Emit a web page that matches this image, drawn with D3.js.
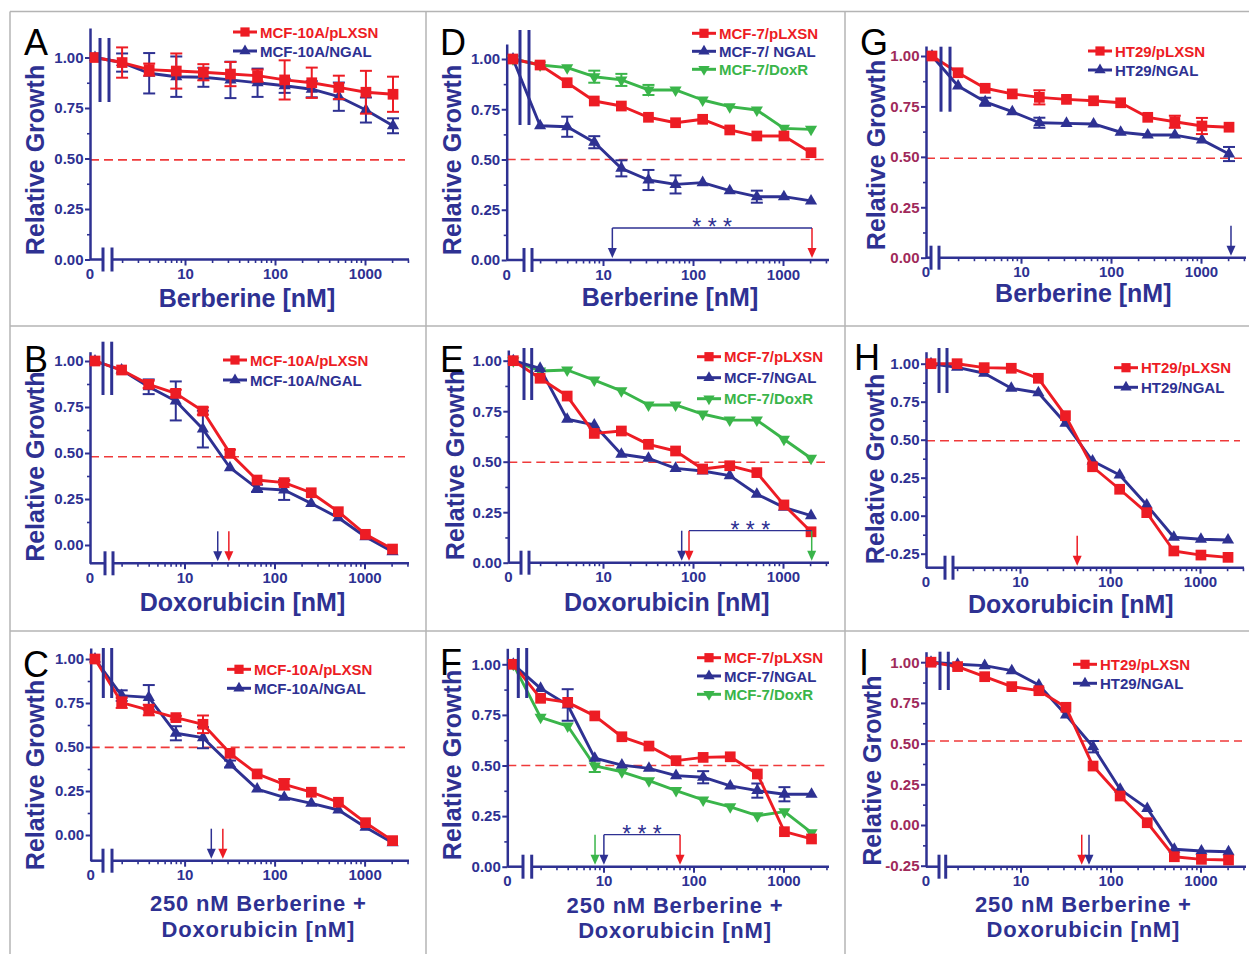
<!DOCTYPE html>
<html><head><meta charset="utf-8">
<script src="https://cdn.jsdelivr.net/npm/d3@7"></script>
<style>body{margin:0;background:#fff}svg{display:block;background:#fff}</style>
</head><body><svg id="c" width="1249" height="954"></svg>
<script>
// ---------- data ----------
const doses = [0,2,4,8,16,32,64,128,256,512,1024,2048];
const xMajorTicks = [10,100,1000];
const xMinorTicks = [2,3,4,5,6,7,8,9,20,30,40,50,60,70,80,90,200,300,400,500,600,700,800,900,2000,3000];
const yTicksStd = [0,0.25,0.5,0.75,1];
const yTicksNeg = [-0.25,0,0.25,0.5,0.75,1];

const A_pLXSN = [1.0,0.975,0.94,0.933,0.927,0.918,0.91,0.889,0.875,0.852,0.828,0.818];
const A_pLXSN_err = [0,0.075,0.03,0.087,0.04,0.06,0.03,0.097,0.075,0.058,0.106,0.087];
const A_NGAL = [1.0,0.975,0.922,0.905,0.902,0.889,0.875,0.86,0.843,0.806,0.74,0.662];
const A_NGAL_err = [0,0.045,0.1,0.1,0.047,0.09,0.07,0.035,0.04,0.07,0.062,0.037];

const B_pLXSN = [1.0,0.951,0.873,0.824,0.728,0.498,0.353,0.339,0.284,0.181,0.058,-0.022];
const B_pLXSN_err = [0,0,0.02,0.02,0.02,0.02,0,0.01,0,0,0,0];
const B_NGAL = [1.0,0.951,0.86,0.783,0.63,0.42,0.308,0.299,0.226,0.148,0.045,-0.036];
const B_NGAL_err = [0,0,0.04,0.106,0.1,0,0.02,0.054,0,0,0,0];

const C_pLXSN = [1.0,0.752,0.71,0.667,0.629,0.464,0.347,0.288,0.243,0.186,0.07,-0.032];
const C_pLXSN_err = [0,0.03,0.03,0.01,0.05,0,0,0.03,0,0,0,0];
const C_NGAL = [1.0,0.792,0.782,0.578,0.553,0.403,0.261,0.214,0.18,0.142,0.044,-0.044];
const C_NGAL_err = [0,0.03,0.07,0.04,0.06,0.02,0,0,0,0,0,0];

const D_pLXSN = [1.0,0.97,0.882,0.791,0.766,0.71,0.683,0.70,0.647,0.617,0.617,0.534];
const D_NGAL = [1.0,0.668,0.663,0.586,0.456,0.398,0.376,0.385,0.345,0.315,0.315,0.294];
const D_NGAL_err = [0,0,0.05,0.03,0.04,0.05,0.045,0,0,0.03,0,0];
const D_DoxR = [1.0,0.97,0.957,0.912,0.896,0.846,0.846,0.796,0.763,0.746,0.655,0.65];
const D_DoxR_err = [0,0,0,0.03,0.03,0.025,0,0,0,0,0,0];

const E_pLXSN = [1.0,0.913,0.825,0.64,0.652,0.586,0.553,0.464,0.48,0.446,0.286,0.153];
const E_NGAL = [1.0,0.962,0.71,0.682,0.537,0.517,0.467,0.454,0.431,0.339,0.274,0.233];
const E_DoxR = [1.0,0.949,0.954,0.904,0.851,0.781,0.781,0.736,0.706,0.706,0.611,0.517];

const F_pLXSN = [1.0,0.832,0.812,0.745,0.642,0.596,0.524,0.54,0.543,0.458,0.173,0.137];
const F_NGAL = [1.0,0.881,0.799,0.536,0.502,0.486,0.45,0.442,0.399,0.376,0.358,0.358];
const F_NGAL_err = [0,0,0.078,0,0,0,0,0.03,0,0.035,0.035,0];
const F_DoxR = [1.0,0.738,0.695,0.498,0.469,0.425,0.376,0.33,0.296,0.252,0.272,0.168];
const F_DoxR_err = [0,0,0,0.03,0,0,0,0,0,0,0,0];

const G_pLXSN = [1.0,0.917,0.84,0.812,0.795,0.785,0.778,0.768,0.696,0.674,0.653,0.647];
const G_pLXSN_err = [0,0,0,0,0.035,0,0,0,0,0.03,0.04,0];
const G_NGAL = [1.0,0.851,0.773,0.724,0.669,0.666,0.663,0.622,0.608,0.608,0.584,0.514];
const G_NGAL_err = [0,0,0.02,0,0.025,0,0,0,0,0,0,0.035];

const H_pLXSN = [1.0,1.0,0.974,0.97,0.904,0.658,0.322,0.174,0.02,-0.232,-0.259,-0.274];
const H_NGAL = [1.0,0.976,0.937,0.838,0.809,0.608,0.36,0.268,0.07,-0.142,-0.155,-0.16];

const I_pLXSN = [1.0,0.973,0.911,0.85,0.825,0.723,0.362,0.178,0.014,-0.195,-0.211,-0.215];
const I_NGAL = [1.0,0.987,0.979,0.948,0.86,0.676,0.481,0.219,0.102,-0.149,-0.16,-0.164];
const I_NGAL_err = [0,0,0,0,0,0,0.035,0,0,0,0,0];

// 50% reference lines
const halfLines = {A:0.493,B:0.48,C:0.498,D:0.5,E:0.497,F:0.5,G:0.493,H:0.493,I:0.516};
// IC50 arrows (dose, series)
const arrowsB = [{dose:23.4,s:"n"},{dose:31.1,s:"p"}];
const arrowsC = [{dose:19.8,s:"n"},{dose:26.6,s:"p"}];
const arrowsD = [{dose:12.7,s:"n"},{dose:2100,s:"p"}];
const arrowsE = [{dose:74.9,s:"n"},{dose:90.3,s:"p"},{dose:2084,s:"d"}];
const arrowsF = [{dose:8.05,s:"d"},{dose:10.1,s:"n"},{dose:70.9,s:"p"}];
const arrowsG = [{dose:2154,s:"n"}];
const arrowsH = [{dose:43.2,s:"p"}];
const arrowsI = [{dose:47.9,s:"p"},{dose:57.7,s:"n"}];
const bracketD = [12.7,2100];
const bracketE = [90.3,2084];
const bracketF = [10.1,70.9];

// ---------- styles / layout ----------
const BLUE="#2e3192", RED="#ed1c24", GREEN="#3ab54a", MAROON="#a02a5a";
const FONT="'Liberation Sans', Arial, Helvetica, sans-serif";
const colorOf = {p:RED, n:BLUE, d:GREEN};
const shapeOf = {p:"square", n:"up", d:"down"};

const lay = {
 A:{ax:90, ctrl:95, x10:185, xEnd:409, y0:259.5, y1:57.5, xAxisY:259.5, yTop:28, tb:[100,109,38,102], bb:[103,112], leg:[233,32,19], letter:[24,55], ylab:[35,160], xlab:[247,298], tickCol:BLUE},
 B:{ax:90, ctrl:95, x10:184.5, xEnd:409, y0:545, y1:361, xAxisY:563.3, yTop:351.7, tb:[103,111.7,341.7,395], bb:[105,113], leg:[223,360,20], letter:[24,372], ylab:[35,466.7], xlab:[242.5,601.7], tickCol:BLUE},
 C:{ax:90.7, ctrl:95, x10:184.6, xEnd:409, y0:835, y1:659, xAxisY:860.7, yTop:648, tb:[103.3,111.7,648,698], bb:[103,112], leg:[227,669.3,19], letter:[23,677], ylab:[35,775], xlab:[258.3,903.5], tickCol:BLUE},
 D:{ax:506.7, ctrl:513, x10:603, xEnd:829, y0:260, y1:59, xAxisY:260, yTop:44, tb:[520,529,30,125], bb:[524,532], leg:[692,33.3,18], letter:[440,55], ylab:[452,160], xlab:[670,297], tickCol:BLUE},
 E:{ax:508.3, ctrl:513.3, x10:603, xEnd:829, y0:562.7, y1:360.7, xAxisY:562.7, yTop:350, tb:[524,531.7,348,400], bb:[521,529], leg:[697,356.7,21], letter:[440,372], ylab:[455,465], xlab:[666.7,601.7], tickCol:BLUE},
 F:{ax:507.3, ctrl:513.3, x10:603.5, xEnd:829, y0:866.7, y1:664.3, xAxisY:866.7, yTop:648.3, tb:[518.3,526.7,648,698], bb:[523,531.7], leg:[697,657.7,18.3], letter:[440,675], ylab:[452,765], xlab:[675,905], tickCol:BLUE},
 G:{ax:926, ctrl:932, x10:1021, xEnd:1246, y0:257.7, y1:56, xAxisY:257.7, yTop:46, tb:[941,950,46.7,111.7], bb:[931,939], leg:[1088,51,19], letter:[860,55], ylab:[876,155], xlab:[1083.3,293.3], tickCol:MAROON},
 H:{ax:926, ctrl:931, x10:1020, xEnd:1244, y0:515.7, y1:363.7, xAxisY:567.7, yTop:351.7, tb:[939,947,348,393], bb:[945,953], leg:[1114,367.7,19.6], letter:[854,370], ylab:[875,469], xlab:[1070.8,604.3], tickCol:BLUE},
 I:{ax:926, ctrl:931, x10:1020.5, xEnd:1246, y0:825, y1:662.2, xAxisY:866.7, yTop:651.7, tb:[940,948.3,651.7,690], bb:[939,945.7], leg:[1073,664.3,19], letter:[859,675], ylab:[872,770.7], xlab:[1083.3,904], tickCol:MAROON}
};
const DEC = 90;

const panels = [
 {k:"A", series:[{s:"n",name:"MCF-10A/NGAL",v:A_NGAL,e:A_NGAL_err},{s:"p",name:"MCF-10A/pLXSN",v:A_pLXSN,e:A_pLXSN_err}], legendOrder:["p","n"], yTicks:yTicksStd, xlabel:["Berberine [nM]"], arrows:[], bracket:null},
 {k:"B", series:[{s:"n",name:"MCF-10A/NGAL",v:B_NGAL,e:B_NGAL_err},{s:"p",name:"MCF-10A/pLXSN",v:B_pLXSN,e:B_pLXSN_err}], legendOrder:["p","n"], yTicks:yTicksStd, xlabel:["Doxorubicin [nM]"], arrows:arrowsB, bracket:null},
 {k:"C", series:[{s:"n",name:"MCF-10A/NGAL",v:C_NGAL,e:C_NGAL_err},{s:"p",name:"MCF-10A/pLXSN",v:C_pLXSN,e:C_pLXSN_err}], legendOrder:["p","n"], yTicks:yTicksStd, xlabel:["250 nM Berberine +","Doxorubicin [nM]"], arrows:arrowsC, bracket:null},
 {k:"D", series:[{s:"d",name:"MCF-7/DoxR",v:D_DoxR,e:D_DoxR_err},{s:"n",name:"MCF-7/ NGAL",v:D_NGAL,e:D_NGAL_err},{s:"p",name:"MCF-7/pLXSN",v:D_pLXSN}], legendOrder:["p","n","d"], yTicks:yTicksStd, xlabel:["Berberine [nM]"], arrows:arrowsD, bracket:bracketD},
 {k:"E", series:[{s:"d",name:"MCF-7/DoxR",v:E_DoxR},{s:"n",name:"MCF-7/NGAL",v:E_NGAL},{s:"p",name:"MCF-7/pLXSN",v:E_pLXSN}], legendOrder:["p","n","d"], yTicks:yTicksStd, xlabel:["Doxorubicin [nM]"], arrows:arrowsE, bracket:bracketE},
 {k:"F", series:[{s:"d",name:"MCF-7/DoxR",v:F_DoxR,e:F_DoxR_err},{s:"n",name:"MCF-7/NGAL",v:F_NGAL,e:F_NGAL_err},{s:"p",name:"MCF-7/pLXSN",v:F_pLXSN}], legendOrder:["p","n","d"], yTicks:yTicksStd, xlabel:["250 nM Berberine +","Doxorubicin [nM]"], arrows:arrowsF, bracket:bracketF},
 {k:"G", series:[{s:"n",name:"HT29/NGAL",v:G_NGAL,e:G_NGAL_err},{s:"p",name:"HT29/pLXSN",v:G_pLXSN,e:G_pLXSN_err}], legendOrder:["p","n"], yTicks:yTicksStd, xlabel:["Berberine [nM]"], arrows:arrowsG, bracket:null},
 {k:"H", series:[{s:"n",name:"HT29/NGAL",v:H_NGAL},{s:"p",name:"HT29/pLXSN",v:H_pLXSN}], legendOrder:["p","n"], yTicks:yTicksNeg, xlabel:["Doxorubicin [nM]"], arrows:arrowsH, bracket:null},
 {k:"I", series:[{s:"n",name:"HT29/NGAL",v:I_NGAL,e:I_NGAL_err},{s:"p",name:"HT29/pLXSN",v:I_pLXSN}], legendOrder:["p","n"], yTicks:yTicksNeg, xlabel:["250 nM Berberine +","Doxorubicin [nM]"], arrows:arrowsI, bracket:null}
];

const svg = d3.select("#c");

// panel frame lines
const frame = [[10,11.5,1249,11.5],[10,11.5,10,954],[426,11.5,426,954],[845,11.5,845,954],[10,326,1249,326],[10,631,1249,631]];
svg.append("g").selectAll("line").data(frame).join("line")
  .attr("x1",d=>d[0]).attr("y1",d=>d[1]).attr("x2",d=>d[2]).attr("y2",d=>d[3])
  .attr("stroke","#b4b4b4").attr("stroke-width",1.5);

function symPath(shape, size){
  if(shape==="square") return d3.symbol(d3.symbolSquare, size)();
  return d3.symbol(d3.symbolTriangle, size)();
}

function drawPanel(P){
  const L = lay[P.k];
  const g = svg.append("g").attr("id","panel"+P.k);
  const x = d3.scaleLog().domain([10,1000]).range([L.x10, L.x10+2*DEC]);
  const xp = d => d===0 ? L.ctrl : x(d);
  const y = d3.scaleLinear().domain([0,1]).range([L.y0, L.y1]);

  // dashed 50% line
  g.append("line").attr("x1",L.ax).attr("x2",L.xEnd-4)
    .attr("y1",y(halfLines[P.k])).attr("y2",y(halfLines[P.k]))
    .attr("stroke","#ef3a3a").attr("stroke-width",1.6).attr("stroke-dasharray","9,5");

  // y axis
  const yAx = d3.scaleLinear().domain([y.invert(L.xAxisY), y.invert(L.yTop)]).range([L.xAxisY, L.yTop]);
  const gy = g.append("g").attr("transform",`translate(${L.ax},0)`)
    .call(d3.axisLeft(yAx).tickValues(P.yTicks).tickFormat(d=>d.toFixed(2)).tickSize(5).tickSizeOuter(0).tickPadding(1.5));
  gy.select(".domain").attr("stroke",BLUE).attr("stroke-width",2.5);
  gy.selectAll(".tick line").attr("stroke",BLUE).attr("stroke-width",2);
  gy.selectAll(".tick text").attr("fill",L.tickCol).attr("font-size",15).attr("font-weight","bold").attr("font-family",FONT);
  const minorY = P.yTicks.slice(1).map((t,i)=>(t+P.yTicks[i])/2);
  const gym = g.append("g").attr("transform",`translate(${L.ax},0)`)
    .call(d3.axisLeft(yAx).tickValues(minorY).tickFormat("").tickSize(3).tickSizeOuter(0));
  gym.select(".domain").remove();
  gym.selectAll(".tick line").attr("stroke",BLUE).attr("stroke-width",1.6);

  // x axis
  const xEndVal = x.invert(L.xEnd);
  const gx = g.append("g").attr("transform",`translate(0,${L.xAxisY})`)
    .call(d3.axisBottom(x).tickValues(xMajorTicks).tickFormat(d3.format("d")).tickSize(6).tickSizeOuter(0).tickPadding(3));
  gx.select(".domain").remove();
  gx.selectAll(".tick line").attr("stroke",BLUE).attr("stroke-width",2);
  gx.selectAll(".tick text").attr("fill",BLUE).attr("font-size",15).attr("font-weight","bold").attr("font-family",FONT);
  const gxm = g.append("g").attr("transform",`translate(0,${L.xAxisY})`)
    .call(d3.axisBottom(x).tickValues(xMinorTicks.filter(t=>t<xEndVal)).tickFormat("").tickSize(3.5).tickSizeOuter(0));
  gxm.select(".domain").remove();
  gxm.selectAll(".tick line").attr("stroke",BLUE).attr("stroke-width",1.6);
  g.append("text").attr("x",L.ax).attr("y",L.xAxisY+9).attr("dy","0.71em").attr("text-anchor","middle")
    .attr("fill",BLUE).attr("font-size",15).attr("font-weight","bold").attr("font-family",FONT).text("0");
  const axSegs = [[L.ax,L.bb[0]],[L.bb[1],L.xEnd]];
  g.append("g").selectAll("line").data(axSegs).join("line")
    .attr("x1",d=>d[0]).attr("x2",d=>d[1]).attr("y1",L.xAxisY).attr("y2",L.xAxisY)
    .attr("stroke",BLUE).attr("stroke-width",2.5);

  // series
  P.series.forEach(S=>{
    const col = colorOf[S.s];
    const pts = doses.map((d,i)=>({d, v:S.v[i], e:S.e?S.e[i]:0}));
    g.append("path").datum(pts)
      .attr("d", d3.line().x(p=>xp(p.d)).y(p=>y(p.v)))
      .attr("fill","none").attr("stroke",col).attr("stroke-width",2.9).attr("stroke-linejoin","round");
    const eb = g.append("g").selectAll("g").data(pts.filter(p=>p.e>0)).join("g");
    eb.append("line").attr("x1",p=>xp(p.d)).attr("x2",p=>xp(p.d)).attr("y1",p=>y(p.v-p.e)).attr("y2",p=>y(p.v+p.e))
      .attr("stroke",col).attr("stroke-width",2);
    [1,-1].forEach(sg=>{
      eb.append("line").attr("x1",p=>xp(p.d)-6).attr("x2",p=>xp(p.d)+6)
        .attr("y1",p=>y(p.v+sg*p.e)).attr("y2",p=>y(p.v+sg*p.e))
        .attr("stroke",col).attr("stroke-width",2);
    });
    const shape = shapeOf[S.s];
    g.append("g").selectAll("path").data(pts).join("path")
      .attr("d", symPath(shape, shape==="square"?115:64))
      .attr("transform",p=>`translate(${xp(p.d)},${y(p.v)})${shape==="down"?" rotate(180)":""}`)
      .attr("fill",col);
  });

  // break marks
  g.append("g").selectAll("line").data([L.tb[0],L.tb[1]]).join("line")
    .attr("x1",d=>d).attr("x2",d=>d).attr("y1",L.tb[2]).attr("y2",L.tb[3])
    .attr("stroke",BLUE).attr("stroke-width",3);
  g.append("g").selectAll("line").data(L.bb).join("line")
    .attr("x1",d=>d).attr("x2",d=>d).attr("y1",L.xAxisY-12).attr("y2",L.xAxisY+12)
    .attr("stroke",BLUE).attr("stroke-width",3);

  // arrows
  const tipY = L.xAxisY-2, tailY = L.xAxisY-32;
  P.arrows.forEach(a=>{
    const col = colorOf[a.s], ax = x(a.dose);
    g.append("line").attr("x1",ax).attr("x2",ax).attr("y1",tailY).attr("y2",tipY-8)
      .attr("stroke",col).attr("stroke-width",1.5);
    g.append("path").attr("d",`M${ax-4.5},${tipY-10}L${ax+4.5},${tipY-10}L${ax},${tipY}Z`).attr("fill",col);
  });
  if(P.bracket){
    const bx1 = x(P.bracket[0]), bx2 = x(P.bracket[1]);
    g.append("line").attr("x1",bx1).attr("x2",bx2).attr("y1",tailY).attr("y2",tailY)
      .attr("stroke",BLUE).attr("stroke-width",1.3);
    g.append("text").attr("x",(bx1+bx2)/2).attr("y",tailY+7).attr("text-anchor","middle")
      .attr("fill",BLUE).attr("font-size",23).attr("font-family",FONT).text("* * *");
  }

  // legend
  const [lx, ly, lgap] = L.leg;
  P.legendOrder.forEach((key,i)=>{
    const S = P.series.find(s=>s.s===key);
    const col = colorOf[key], yy = ly + i*lgap, shape = shapeOf[key];
    g.append("line").attr("x1",lx).attr("x2",lx+24).attr("y1",yy).attr("y2",yy).attr("stroke",col).attr("stroke-width",3);
    g.append("path").attr("d",symPath(shape, shape==="square"?85:55))
      .attr("transform",`translate(${lx+12},${yy})${shape==="down"?" rotate(180)":""}`).attr("fill",col);
    g.append("text").attr("x",lx+27).attr("y",yy).attr("dominant-baseline","central")
      .attr("fill",col).attr("font-size",15).attr("font-weight","bold").attr("font-family",FONT).text(S.name);
  });

  // labels
  g.append("text").attr("transform",`translate(${L.ylab[0]},${L.ylab[1]}) rotate(-90)`)
    .attr("text-anchor","middle").attr("dominant-baseline","central")
    .attr("fill",BLUE).attr("font-size",25).attr("font-weight","bold").attr("font-family",FONT).text("Relative Growth");
  const two = P.xlabel.length>1;
  P.xlabel.forEach((t,i)=>{
    g.append("text").attr("x",L.xlab[0]).attr("y",L.xlab[1]+i*25.8).attr("text-anchor","middle").attr("dominant-baseline","central")
      .attr("fill",BLUE).attr("font-size",two?22:25).attr("letter-spacing",two?"0.8px":null)
      .attr("font-weight","bold").attr("font-family",FONT).text(t);
  });
  g.append("text").attr("x",L.letter[0]).attr("y",L.letter[1])
    .attr("fill","#000").attr("font-size",36).attr("font-family",FONT).text(P.k);
}

panels.forEach(drawPanel);
</script>
</body></html>
